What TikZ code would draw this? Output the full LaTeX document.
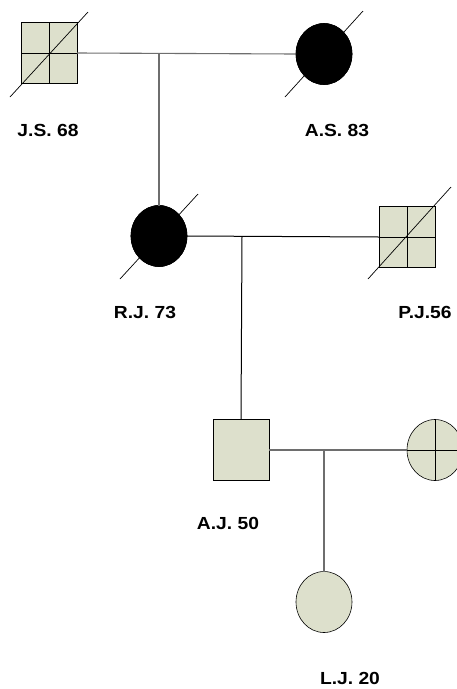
\documentclass[tikz,border=0pt]{standalone}
\usepackage{fontspec}
\setmainfont{Liberation Sans}
\newfontfamily\lblfont[FakeStretch=1.1]{Liberation Sans}
\usetikzlibrary{calc,shapes.geometric}
\definecolor{pedfill}{RGB}{221,224,204}
\definecolor{linegray}{RGB}{110,110,110}
\tikzset{
  male/.style={draw=black, fill=pedfill, minimum width=56pt, minimum height=61pt, inner sep=0pt, outer sep=0pt, line width=0.8pt},
  female/.style={ellipse, draw=black, fill=pedfill, minimum width=56pt, minimum height=61pt, inner sep=0pt, outer sep=0pt, line width=0.6pt},
  femaledead/.style={female, fill=black},
  lbl/.style={font=\lblfont\bfseries\fontsize{17.5}{20}\selectfont, inner sep=0pt},
  rel/.style={line width=1.1pt, draw=linegray},
  relb/.style={line width=1pt, draw=black},
  slash/.style={line width=0.7pt, draw=black},
  quad/.style={line width=0.9pt, draw=black}
}
\begin{document}
\begin{tikzpicture}[x=1pt,y=-1pt]
\useasboundingbox (0,0) rectangle (457,689);
% nodes
\node[male] (js) at (49,53) {};
\node[femaledead] (as) at (324,54) {};
\node[femaledead] (rj) at (159,236) {};
\node[male] (pj) at (407,237) {};
\node[male] (aj) at (241,450) {};
\node[female] (wf) at (435,450) {};
\node[female] (lj) at (324,602) {};
% quadrants
\draw[quad] (js.north) -- (js.south) (js.west) -- (js.east);
\draw[quad] (pj.north) -- (pj.south) (pj.west) -- (pj.east);
\draw[quad] (wf.north) -- (wf.south) (wf.west) -- (wf.east);
% deceased slashes
\draw[slash] ($(js.center)+(-39,44)$) -- ($(js.center)+(39,-41)$);
\draw[slash] ($(as.center)+(-39,43)$) -- ($(as.center)+(39,-43)$);
\draw[slash] ($(rj.center)+(-39,43)$) -- ($(rj.center)+(39,-42)$);
\draw[slash] ($(pj.center)+(-39,42)$) -- ($(pj.center)+(44,-50)$);
% redraw dead circles over slash middle
\node[femaledead] at (as) {};
\node[femaledead] at (rj) {};
% relationships
\coordinate (m1) at (159,53);
\coordinate (m2) at (242,237);
\coordinate (m3) at (324,450);
\draw[rel] (js.east) -- (as.west);
\draw[rel] (m1) -- (rj.north);
\draw[relb] (rj.east) -- (pj.west);
\draw[relb] (m2) -- (aj.north);
\draw[rel] (aj.east) -- (wf.west);
\draw[rel] (m3) -- (lj.north);
% labels
\node[lbl] (ljs) at (48,130) {J.S. 68};
\node[lbl] (las) at (337,130) {A.S. 83};
\node[lbl] (lrj) at (145,312) {R.J. 73};
\node[lbl] (lpj) at (425,312) {P.J.56};
\node[lbl] (laj) at (228,523) {A.J. 50};
\node[lbl] (llj) at (350,678) {L.J. 20};
\end{tikzpicture}
\end{document}
